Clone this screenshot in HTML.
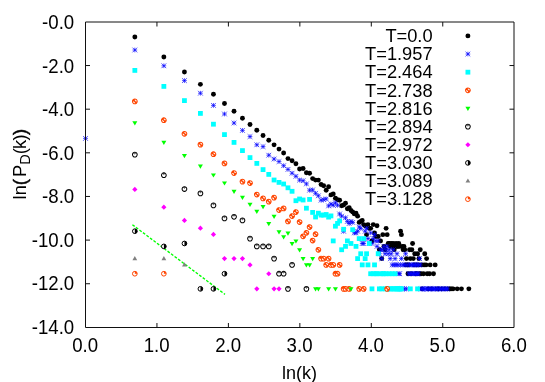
<!DOCTYPE html>
<html><head><meta charset="utf-8"><title>plot</title>
<style>
html,body{margin:0;padding:0;background:#fff;}
body{width:545px;height:382px;overflow:hidden;font-family:"Liberation Sans",sans-serif;}
svg{display:block;will-change:transform;}
text{font-family:"Liberation Sans",sans-serif;fill:#000;}
</style></head><body>
<svg width="545" height="382" viewBox="0 0 545 382">
<defs>
<g id="mo"><circle r="2.35" fill="#fff" stroke="#ff4500" stroke-width="1.05"/><path d="M0 0L-2.4 0A2.4 2.4 0 0 1 0 -2.4ZM0 0L2.4 0A2.4 2.4 0 0 1 0 2.4Z" fill="#ff4500"/><circle r="0.8" fill="#ff4500"/></g>
<g id="mc"><circle r="2.35" fill="#fff" stroke="#000" stroke-width="1.05"/><path d="M-2.05 -1.15A2.35 2.35 0 0 1 2.05 -1.15Z" fill="#333"/><path d="M-0.75 -1.2L0 0.1L0.75 -1.2Z" fill="#444"/></g>
<g id="mh"><circle r="2.35" fill="#fff" stroke="#000" stroke-width="1.0"/><path d="M0 -2.4A2.4 2.4 0 0 1 0 2.4Z" fill="#000"/></g>
<g id="mq"><circle r="2.35" fill="#fff" stroke="#ff4500" stroke-width="1.0"/><path d="M0 0L0 -2.4A2.4 2.4 0 0 1 2.4 0Z" fill="#ff4500"/></g>
</defs>
<rect width="545" height="382" fill="#fff"/>
<path d="M83.15 138.4H87.85M85.5 136.05V140.75M83.15 136.05L87.85 140.75M83.15 140.75L87.85 136.05" stroke="#0000ff" stroke-width="0.7" fill="none"/>
<g stroke="#111" stroke-width="1" fill="none">
<path d="M85.5 22.0V327.5H514.0V22.0Z"/>
<path d="M156.95 327.5v-4.5M156.95 22.0v4.5M228.4 327.5v-4.5M228.4 22.0v4.5M299.85 327.5v-4.5M299.85 22.0v4.5M371.3 327.5v-4.5M371.3 22.0v4.5M442.75 327.5v-4.5M442.75 22.0v4.5M85.5 65.54h4.5M514.0 65.54h-4.5M85.5 109.18h4.5M514.0 109.18h-4.5M85.5 152.82h4.5M514.0 152.82h-4.5M85.5 196.46h4.5M514.0 196.46h-4.5M85.5 240.1h4.5M514.0 240.1h-4.5M85.5 283.74h4.5M514.0 283.74h-4.5"/>
</g>
<text transform="translate(74.2,29.3) scale(0.9,1)" font-size="20.7" text-anchor="end">-0.0</text>
<text transform="translate(74.2,72.8) scale(0.9,1)" font-size="20.7" text-anchor="end">-2.0</text>
<text transform="translate(74.2,116.3) scale(0.9,1)" font-size="20.7" text-anchor="end">-4.0</text>
<text transform="translate(74.2,159.8) scale(0.9,1)" font-size="20.7" text-anchor="end">-6.0</text>
<text transform="translate(74.2,203.3) scale(0.9,1)" font-size="20.7" text-anchor="end">-8.0</text>
<text transform="translate(74.2,246.8) scale(0.9,1)" font-size="20.7" text-anchor="end">-10.0</text>
<text transform="translate(74.2,290.3) scale(0.9,1)" font-size="20.7" text-anchor="end">-12.0</text>
<text transform="translate(74.2,333.8) scale(0.9,1)" font-size="20.7" text-anchor="end">-14.0</text>
<text transform="translate(85.2,352.4) scale(0.9,1)" font-size="20.7" text-anchor="middle">0.0</text>
<text transform="translate(156.65,352.4) scale(0.9,1)" font-size="20.7" text-anchor="middle">1.0</text>
<text transform="translate(228.1,352.4) scale(0.9,1)" font-size="20.7" text-anchor="middle">2.0</text>
<text transform="translate(299.55,352.4) scale(0.9,1)" font-size="20.7" text-anchor="middle">3.0</text>
<text transform="translate(371,352.4) scale(0.9,1)" font-size="20.7" text-anchor="middle">4.0</text>
<text transform="translate(442.45,352.4) scale(0.9,1)" font-size="20.7" text-anchor="middle">5.0</text>
<text transform="translate(513.9,352.4) scale(0.9,1)" font-size="20.7" text-anchor="middle">6.0</text>
<text transform="translate(299.5,378.7) scale(0.95,1)" font-size="19" text-anchor="middle">ln(k)</text>
<text transform="translate(25.9,164.2) rotate(-90) scale(0.95,1)" font-size="19.2" text-anchor="middle">ln<tspan stroke="#000" stroke-width="0.5">(</tspan><tspan dx="2.2">P</tspan><tspan font-size="15.4" dy="4.5">D</tspan><tspan dy="-4.5" letter-spacing="-0.7">(k)</tspan><tspan stroke="#000" stroke-width="0.5">)</tspan></text>
<path d="M132.4 224.7L225 294.4" stroke="#00ff00" stroke-width="1.35" stroke-dasharray="2.8 1.6" fill="none"/>
<circle cx="134.84" cy="37" r="2.45" fill="#000"/>
<circle cx="163.86" cy="57.02" r="2.45" fill="#000"/>
<circle cx="184.44" cy="72" r="2.45" fill="#000"/>
<circle cx="200.41" cy="84.35" r="2.45" fill="#000"/>
<circle cx="213.45" cy="94.3" r="2.45" fill="#000"/>
<circle cx="224.48" cy="103.46" r="2.45" fill="#000"/>
<circle cx="234.03" cy="111.24" r="2.45" fill="#000"/>
<circle cx="242.46" cy="118.19" r="2.45" fill="#000"/>
<circle cx="250" cy="124.46" r="2.45" fill="#000"/>
<circle cx="256.82" cy="130.19" r="2.45" fill="#000"/>
<circle cx="263.05" cy="135.45" r="2.45" fill="#000"/>
<circle cx="268.77" cy="140.32" r="2.45" fill="#000"/>
<circle cx="274.07" cy="144.85" r="2.45" fill="#000"/>
<circle cx="279.01" cy="149.09" r="2.45" fill="#000"/>
<circle cx="283.63" cy="153.07" r="2.45" fill="#000"/>
<circle cx="287.97" cy="158.6" r="2.45" fill="#000"/>
<circle cx="292.06" cy="160.7" r="2.45" fill="#000"/>
<circle cx="295.92" cy="163.7" r="2.45" fill="#000"/>
<circle cx="299.59" cy="169" r="2.45" fill="#000"/>
<circle cx="303.09" cy="168.5" r="2.45" fill="#000"/>
<circle cx="306.41" cy="172.8" r="2.45" fill="#000"/>
<circle cx="309.59" cy="173.2" r="2.45" fill="#000"/>
<circle cx="312.64" cy="178.6" r="2.45" fill="#000"/>
<circle cx="315.56" cy="180.1" r="2.45" fill="#000"/>
<circle cx="318.37" cy="180.1" r="2.45" fill="#000"/>
<circle cx="321.07" cy="184.5" r="2.45" fill="#000"/>
<circle cx="323.67" cy="185.8" r="2.45" fill="#000"/>
<circle cx="326.18" cy="190.2" r="2.45" fill="#000"/>
<circle cx="328.61" cy="186.8" r="2.45" fill="#000"/>
<circle cx="330.95" cy="194.9" r="2.45" fill="#000"/>
<circle cx="333.22" cy="193.9" r="2.45" fill="#000"/>
<circle cx="335.43" cy="198.3" r="2.45" fill="#000"/>
<circle cx="337.56" cy="199.6" r="2.45" fill="#000"/>
<circle cx="339.64" cy="200.2" r="2.45" fill="#000"/>
<circle cx="341.65" cy="205.7" r="2.45" fill="#000"/>
<circle cx="343.61" cy="205" r="2.45" fill="#000"/>
<circle cx="345.52" cy="203.2" r="2.45" fill="#000"/>
<circle cx="347.38" cy="208.8" r="2.45" fill="#000"/>
<circle cx="349.19" cy="207.6" r="2.45" fill="#000"/>
<circle cx="350.96" cy="210.5" r="2.45" fill="#000"/>
<circle cx="352.68" cy="212" r="2.45" fill="#000"/>
<circle cx="354.36" cy="213.9" r="2.45" fill="#000"/>
<circle cx="356.01" cy="213.23" r="2.45" fill="#000"/>
<circle cx="357.62" cy="216.14" r="2.45" fill="#000"/>
<circle cx="359.19" cy="222.42" r="2.45" fill="#000"/>
<circle cx="360.73" cy="221.4" r="2.45" fill="#000"/>
<circle cx="362.23" cy="220.43" r="2.45" fill="#000"/>
<circle cx="363.71" cy="224.6" r="2.45" fill="#000"/>
<circle cx="365.16" cy="225.78" r="2.45" fill="#000"/>
<circle cx="366.57" cy="234.63" r="2.45" fill="#000"/>
<circle cx="367.96" cy="224.6" r="2.45" fill="#000"/>
<circle cx="369.32" cy="228.35" r="2.45" fill="#000"/>
<circle cx="370.66" cy="228.35" r="2.45" fill="#000"/>
<circle cx="371.97" cy="240.91" r="2.45" fill="#000"/>
<circle cx="373.26" cy="224.6" r="2.45" fill="#000"/>
<circle cx="374.53" cy="232.88" r="2.45" fill="#000"/>
<circle cx="375.77" cy="236.53" r="2.45" fill="#000"/>
<circle cx="377" cy="225.78" r="2.45" fill="#000"/>
<circle cx="378.2" cy="236.53" r="2.45" fill="#000"/>
<circle cx="379.38" cy="249.75" r="2.45" fill="#000"/>
<circle cx="380.55" cy="240.91" r="2.45" fill="#000"/>
<circle cx="381.69" cy="258.6" r="2.45" fill="#000"/>
<circle cx="382.82" cy="234.63" r="2.45" fill="#000"/>
<circle cx="383.93" cy="246.39" r="2.45" fill="#000"/>
<circle cx="385.02" cy="249.75" r="2.45" fill="#000"/>
<circle cx="386.1" cy="228.35" r="2.45" fill="#000"/>
<circle cx="387.16" cy="234.63" r="2.45" fill="#000"/>
<circle cx="388.2" cy="243.48" r="2.45" fill="#000"/>
<circle cx="389.23" cy="243.48" r="2.45" fill="#000"/>
<circle cx="390.24" cy="246.39" r="2.45" fill="#000"/>
<circle cx="391.25" cy="243.48" r="2.45" fill="#000"/>
<circle cx="392.23" cy="246.39" r="2.45" fill="#000"/>
<circle cx="393.21" cy="243.48" r="2.45" fill="#000"/>
<circle cx="394.17" cy="249.75" r="2.45" fill="#000"/>
<circle cx="395.11" cy="246.39" r="2.45" fill="#000"/>
<circle cx="396.05" cy="243.48" r="2.45" fill="#000"/>
<circle cx="396.97" cy="246.39" r="2.45" fill="#000"/>
<circle cx="397.88" cy="246.39" r="2.45" fill="#000"/>
<circle cx="398.78" cy="243.48" r="2.45" fill="#000"/>
<circle cx="399.67" cy="246.39" r="2.45" fill="#000"/>
<circle cx="400.55" cy="231.27" r="2.45" fill="#000"/>
<circle cx="401.42" cy="234.63" r="2.45" fill="#000"/>
<circle cx="402.27" cy="246.39" r="2.45" fill="#000"/>
<circle cx="403.12" cy="249.75" r="2.45" fill="#000"/>
<circle cx="403.96" cy="246.39" r="2.45" fill="#000"/>
<circle cx="404.79" cy="249.75" r="2.45" fill="#000"/>
<circle cx="405.6" cy="264.88" r="2.45" fill="#000"/>
<circle cx="406.41" cy="258.6" r="2.45" fill="#000"/>
<circle cx="407.21" cy="264.88" r="2.45" fill="#000"/>
<circle cx="408" cy="273.73" r="2.45" fill="#000"/>
<circle cx="408.78" cy="264.88" r="2.45" fill="#000"/>
<circle cx="409.56" cy="249.75" r="2.45" fill="#000"/>
<circle cx="410.32" cy="258.6" r="2.45" fill="#000"/>
<circle cx="411.08" cy="273.73" r="2.45" fill="#000"/>
<circle cx="411.83" cy="249.75" r="2.45" fill="#000"/>
<circle cx="412.57" cy="243.48" r="2.45" fill="#000"/>
<circle cx="413.3" cy="258.6" r="2.45" fill="#000"/>
<circle cx="414.03" cy="264.88" r="2.45" fill="#000"/>
<circle cx="414.75" cy="253.73" r="2.45" fill="#000"/>
<circle cx="415.46" cy="273.73" r="2.45" fill="#000"/>
<circle cx="416.17" cy="264.88" r="2.45" fill="#000"/>
<circle cx="416.86" cy="273.73" r="2.45" fill="#000"/>
<circle cx="417.56" cy="253.73" r="2.45" fill="#000"/>
<circle cx="418.24" cy="264.88" r="2.45" fill="#000"/>
<circle cx="418.92" cy="258.6" r="2.45" fill="#000"/>
<circle cx="419.59" cy="273.73" r="2.45" fill="#000"/>
<circle cx="420.26" cy="249.75" r="2.45" fill="#000"/>
<circle cx="420.92" cy="273.73" r="2.45" fill="#000"/>
<circle cx="421.57" cy="264.88" r="2.45" fill="#000"/>
<circle cx="422.22" cy="288.85" r="2.45" fill="#000"/>
<circle cx="423.49" cy="273.73" r="2.45" fill="#000"/>
<circle cx="424.12" cy="264.88" r="2.45" fill="#000"/>
<circle cx="424.75" cy="253.73" r="2.45" fill="#000"/>
<circle cx="425.98" cy="264.88" r="2.45" fill="#000"/>
<circle cx="426.59" cy="258.6" r="2.45" fill="#000"/>
<circle cx="427.2" cy="273.73" r="2.45" fill="#000"/>
<circle cx="428.39" cy="288.85" r="2.45" fill="#000"/>
<circle cx="429.56" cy="273.73" r="2.45" fill="#000"/>
<circle cx="430.14" cy="264.88" r="2.45" fill="#000"/>
<circle cx="431.85" cy="288.85" r="2.45" fill="#000"/>
<circle cx="433.52" cy="273.73" r="2.45" fill="#000"/>
<circle cx="435.15" cy="264.88" r="2.45" fill="#000"/>
<circle cx="436.75" cy="288.85" r="2.45" fill="#000"/>
<circle cx="438.82" cy="288.85" r="2.45" fill="#000"/>
<circle cx="441.83" cy="288.85" r="2.45" fill="#000"/>
<circle cx="444.71" cy="288.85" r="2.45" fill="#000"/>
<circle cx="447.48" cy="288.85" r="2.45" fill="#000"/>
<circle cx="449.27" cy="288.85" r="2.45" fill="#000"/>
<circle cx="450.58" cy="288.85" r="2.45" fill="#000"/>
<circle cx="451.87" cy="288.85" r="2.45" fill="#000"/>
<circle cx="453.14" cy="288.85" r="2.45" fill="#000"/>
<circle cx="457.2" cy="288.85" r="2.45" fill="#000"/>
<circle cx="461.42" cy="288.85" r="2.45" fill="#000"/>
<circle cx="468.85" cy="288.85" r="2.45" fill="#000"/>
<text transform="translate(432.6,42.2) scale(0.962,1)" font-size="19" text-anchor="end">T=0.0</text>
<circle cx="467.9" cy="35.9" r="2.45" fill="#000"/>
<path d="M132.49 50H137.19M134.84 47.65V52.35M132.49 47.65L137.19 52.35M132.49 52.35L137.19 47.65" stroke="#0000ff" stroke-width="0.7" fill="none"/>
<path d="M161.51 65.8H166.21M163.86 63.45V68.15M161.51 63.45L166.21 68.15M161.51 68.15L166.21 63.45" stroke="#0000ff" stroke-width="0.7" fill="none"/>
<path d="M182.09 80.6H186.79M184.44 78.25V82.95M182.09 78.25L186.79 82.95M182.09 82.95L186.79 78.25" stroke="#0000ff" stroke-width="0.7" fill="none"/>
<path d="M198.06 93.2H202.76M200.41 90.85V95.55M198.06 90.85L202.76 95.55M198.06 95.55L202.76 90.85" stroke="#0000ff" stroke-width="0.7" fill="none"/>
<path d="M211.1 105.4H215.8M213.45 103.05V107.75M211.1 103.05L215.8 107.75M211.1 107.75L215.8 103.05" stroke="#0000ff" stroke-width="0.7" fill="none"/>
<path d="M222.13 114H226.83M224.48 111.65V116.35M222.13 111.65L226.83 116.35M222.13 116.35L226.83 111.65" stroke="#0000ff" stroke-width="0.7" fill="none"/>
<path d="M231.68 123H236.38M234.03 120.65V125.35M231.68 120.65L236.38 125.35M231.68 125.35L236.38 120.65" stroke="#0000ff" stroke-width="0.7" fill="none"/>
<path d="M240.11 130.4H244.81M242.46 128.05V132.75M240.11 128.05L244.81 132.75M240.11 132.75L244.81 128.05" stroke="#0000ff" stroke-width="0.7" fill="none"/>
<path d="M247.65 136.6H252.35M250 134.25V138.95M247.65 134.25L252.35 138.95M247.65 138.95L252.35 134.25" stroke="#0000ff" stroke-width="0.7" fill="none"/>
<path d="M254.47 144.8H259.17M256.82 142.45V147.15M254.47 142.45L259.17 147.15M254.47 147.15L259.17 142.45" stroke="#0000ff" stroke-width="0.7" fill="none"/>
<path d="M260.7 146.6H265.4M263.05 144.25V148.95M260.7 144.25L265.4 148.95M260.7 148.95L265.4 144.25" stroke="#0000ff" stroke-width="0.7" fill="none"/>
<path d="M266.42 155.2H271.12M268.77 152.85V157.55M266.42 152.85L271.12 157.55M266.42 157.55L271.12 152.85" stroke="#0000ff" stroke-width="0.7" fill="none"/>
<path d="M271.72 159H276.42M274.07 156.65V161.35M271.72 156.65L276.42 161.35M271.72 161.35L276.42 156.65" stroke="#0000ff" stroke-width="0.7" fill="none"/>
<path d="M276.66 161.6H281.36M279.01 159.25V163.95M276.66 159.25L281.36 163.95M276.66 163.95L281.36 159.25" stroke="#0000ff" stroke-width="0.7" fill="none"/>
<path d="M281.28 165.7H285.98M283.63 163.35V168.05M281.28 163.35L285.98 168.05M281.28 168.05L285.98 163.35" stroke="#0000ff" stroke-width="0.7" fill="none"/>
<path d="M285.62 169.4H290.32M287.97 167.05V171.75M285.62 167.05L290.32 171.75M285.62 171.75L290.32 167.05" stroke="#0000ff" stroke-width="0.7" fill="none"/>
<path d="M289.71 173.2H294.41M292.06 170.85V175.55M289.71 170.85L294.41 175.55M289.71 175.55L294.41 170.85" stroke="#0000ff" stroke-width="0.7" fill="none"/>
<path d="M293.57 176.3H298.27M295.92 173.95V178.65M293.57 173.95L298.27 178.65M293.57 178.65L298.27 173.95" stroke="#0000ff" stroke-width="0.7" fill="none"/>
<path d="M297.24 180.1H301.94M299.59 177.75V182.45M297.24 177.75L301.94 182.45M297.24 182.45L301.94 177.75" stroke="#0000ff" stroke-width="0.7" fill="none"/>
<path d="M300.74 180.7H305.44M303.09 178.35V183.05M300.74 178.35L305.44 183.05M300.74 183.05L305.44 178.35" stroke="#0000ff" stroke-width="0.7" fill="none"/>
<path d="M304.06 183.9H308.76M306.41 181.55V186.25M304.06 181.55L308.76 186.25M304.06 186.25L308.76 181.55" stroke="#0000ff" stroke-width="0.7" fill="none"/>
<path d="M307.24 190.2H311.94M309.59 187.85V192.55M307.24 187.85L311.94 192.55M307.24 192.55L311.94 187.85" stroke="#0000ff" stroke-width="0.7" fill="none"/>
<path d="M310.29 189.9H314.99M312.64 187.55V192.25M310.29 187.55L314.99 192.25M310.29 192.25L314.99 187.55" stroke="#0000ff" stroke-width="0.7" fill="none"/>
<path d="M313.21 193.3H317.91M315.56 190.95V195.65M313.21 190.95L317.91 195.65M313.21 195.65L317.91 190.95" stroke="#0000ff" stroke-width="0.7" fill="none"/>
<path d="M316.02 195.8H320.72M318.37 193.45V198.15M316.02 193.45L320.72 198.15M316.02 198.15L320.72 193.45" stroke="#0000ff" stroke-width="0.7" fill="none"/>
<path d="M318.72 200.2H323.42M321.07 197.85V202.55M318.72 197.85L323.42 202.55M318.72 202.55L323.42 197.85" stroke="#0000ff" stroke-width="0.7" fill="none"/>
<path d="M321.32 199.6H326.02M323.67 197.25V201.95M321.32 197.25L326.02 201.95M321.32 201.95L326.02 197.25" stroke="#0000ff" stroke-width="0.7" fill="none"/>
<path d="M323.83 198.9H328.53M326.18 196.55V201.25M323.83 196.55L328.53 201.25M323.83 201.25L328.53 196.55" stroke="#0000ff" stroke-width="0.7" fill="none"/>
<path d="M326.26 205.9H330.96M328.61 203.55V208.25M326.26 203.55L330.96 208.25M326.26 208.25L330.96 203.55" stroke="#0000ff" stroke-width="0.7" fill="none"/>
<path d="M328.6 204H333.3M330.95 201.65V206.35M328.6 201.65L333.3 206.35M328.6 206.35L333.3 201.65" stroke="#0000ff" stroke-width="0.7" fill="none"/>
<path d="M330.87 205.2H335.57M333.22 202.85V207.55M330.87 202.85L335.57 207.55M330.87 207.55L335.57 202.85" stroke="#0000ff" stroke-width="0.7" fill="none"/>
<path d="M333.08 202.7H337.78M335.43 200.35V205.05M333.08 200.35L337.78 205.05M333.08 205.05L337.78 200.35" stroke="#0000ff" stroke-width="0.7" fill="none"/>
<path d="M335.21 205.31H339.91M337.56 202.96V207.66M335.21 202.96L339.91 207.66M335.21 207.66L339.91 202.96" stroke="#0000ff" stroke-width="0.7" fill="none"/>
<path d="M337.29 213.92H341.99M339.64 211.57V216.27M337.29 211.57L341.99 216.27M337.29 216.27L341.99 211.57" stroke="#0000ff" stroke-width="0.7" fill="none"/>
<path d="M339.3 216.14H344M341.65 213.79V218.49M339.3 213.79L344 218.49M339.3 218.49L344 213.79" stroke="#0000ff" stroke-width="0.7" fill="none"/>
<path d="M341.26 231.27H345.96M343.61 228.92V233.62M341.26 228.92L345.96 233.62M341.26 233.62L345.96 228.92" stroke="#0000ff" stroke-width="0.7" fill="none"/>
<path d="M343.17 217.76H347.87M345.52 215.41V220.11M343.17 215.41L347.87 220.11M343.17 220.11L347.87 215.41" stroke="#0000ff" stroke-width="0.7" fill="none"/>
<path d="M345.03 221.4H349.73M347.38 219.05V223.75M345.03 219.05L349.73 223.75M345.03 223.75L349.73 219.05" stroke="#0000ff" stroke-width="0.7" fill="none"/>
<path d="M346.84 223.48H351.54M349.19 221.13V225.83M346.84 221.13L351.54 225.83M346.84 225.83L351.54 221.13" stroke="#0000ff" stroke-width="0.7" fill="none"/>
<path d="M348.61 221.4H353.31M350.96 219.05V223.75M348.61 219.05L353.31 223.75M348.61 223.75L353.31 219.05" stroke="#0000ff" stroke-width="0.7" fill="none"/>
<path d="M350.33 222.42H355.03M352.68 220.07V224.77M350.33 220.07L355.03 224.77M350.33 224.77L355.03 220.07" stroke="#0000ff" stroke-width="0.7" fill="none"/>
<path d="M352.01 232.88H356.71M354.36 230.53V235.23M352.01 230.53L356.71 235.23M352.01 235.23L356.71 230.53" stroke="#0000ff" stroke-width="0.7" fill="none"/>
<path d="M353.66 232.88H358.36M356.01 230.53V235.23M353.66 230.53L358.36 235.23M353.66 235.23L358.36 230.53" stroke="#0000ff" stroke-width="0.7" fill="none"/>
<path d="M355.27 231.27H359.97M357.62 228.92V233.62M355.27 228.92L359.97 233.62M355.27 233.62L359.97 228.92" stroke="#0000ff" stroke-width="0.7" fill="none"/>
<path d="M356.84 227.03H361.54M359.19 224.68V229.38M356.84 224.68L361.54 229.38M356.84 229.38L361.54 224.68" stroke="#0000ff" stroke-width="0.7" fill="none"/>
<path d="M358.38 228.35H363.08M360.73 226V230.7M358.38 226L363.08 230.7M358.38 230.7L363.08 226" stroke="#0000ff" stroke-width="0.7" fill="none"/>
<path d="M359.88 243.48H364.58M362.23 241.13V245.83M359.88 241.13L364.58 245.83M359.88 245.83L364.58 241.13" stroke="#0000ff" stroke-width="0.7" fill="none"/>
<path d="M361.36 243.48H366.06M363.71 241.13V245.83M361.36 241.13L366.06 245.83M361.36 245.83L366.06 241.13" stroke="#0000ff" stroke-width="0.7" fill="none"/>
<path d="M362.81 231.27H367.51M365.16 228.92V233.62M362.81 228.92L367.51 233.62M362.81 233.62L367.51 228.92" stroke="#0000ff" stroke-width="0.7" fill="none"/>
<path d="M364.22 228.35H368.92M366.57 226V230.7M364.22 226L368.92 230.7M364.22 230.7L368.92 226" stroke="#0000ff" stroke-width="0.7" fill="none"/>
<path d="M365.61 238.61H370.31M367.96 236.26V240.96M365.61 236.26L370.31 240.96M365.61 240.96L370.31 236.26" stroke="#0000ff" stroke-width="0.7" fill="none"/>
<path d="M366.97 243.48H371.67M369.32 241.13V245.83M366.97 241.13L371.67 245.83M366.97 245.83L371.67 241.13" stroke="#0000ff" stroke-width="0.7" fill="none"/>
<path d="M368.31 232.88H373.01M370.66 230.53V235.23M368.31 230.53L373.01 235.23M368.31 235.23L373.01 230.53" stroke="#0000ff" stroke-width="0.7" fill="none"/>
<path d="M369.62 243.48H374.32M371.97 241.13V245.83M369.62 241.13L374.32 245.83M369.62 245.83L374.32 241.13" stroke="#0000ff" stroke-width="0.7" fill="none"/>
<path d="M370.91 238.61H375.61M373.26 236.26V240.96M370.91 236.26L375.61 240.96M370.91 240.96L375.61 236.26" stroke="#0000ff" stroke-width="0.7" fill="none"/>
<path d="M372.18 234.63H376.88M374.53 232.28V236.98M372.18 232.28L376.88 236.98M372.18 236.98L376.88 232.28" stroke="#0000ff" stroke-width="0.7" fill="none"/>
<path d="M373.42 240.91H378.12M375.77 238.56V243.26M373.42 238.56L378.12 243.26M373.42 243.26L378.12 238.56" stroke="#0000ff" stroke-width="0.7" fill="none"/>
<path d="M374.65 246.39H379.35M377 244.04V248.74M374.65 244.04L379.35 248.74M374.65 248.74L379.35 244.04" stroke="#0000ff" stroke-width="0.7" fill="none"/>
<path d="M375.85 240.91H380.55M378.2 238.56V243.26M375.85 238.56L380.55 243.26M375.85 243.26L380.55 238.56" stroke="#0000ff" stroke-width="0.7" fill="none"/>
<path d="M377.03 253.73H381.73M379.38 251.38V256.08M377.03 251.38L381.73 256.08M377.03 256.08L381.73 251.38" stroke="#0000ff" stroke-width="0.7" fill="none"/>
<path d="M378.2 249.75H382.9M380.55 247.4V252.1M378.2 247.4L382.9 252.1M378.2 252.1L382.9 247.4" stroke="#0000ff" stroke-width="0.7" fill="none"/>
<path d="M379.34 258.6H384.04M381.69 256.25V260.95M379.34 256.25L384.04 260.95M379.34 260.95L384.04 256.25" stroke="#0000ff" stroke-width="0.7" fill="none"/>
<path d="M380.47 249.75H385.17M382.82 247.4V252.1M380.47 247.4L385.17 252.1M380.47 252.1L385.17 247.4" stroke="#0000ff" stroke-width="0.7" fill="none"/>
<path d="M381.58 246.39H386.28M383.93 244.04V248.74M381.58 244.04L386.28 248.74M381.58 248.74L386.28 244.04" stroke="#0000ff" stroke-width="0.7" fill="none"/>
<path d="M382.67 253.73H387.37M385.02 251.38V256.08M382.67 251.38L387.37 256.08M382.67 256.08L387.37 251.38" stroke="#0000ff" stroke-width="0.7" fill="none"/>
<path d="M383.75 249.75H388.45M386.1 247.4V252.1M383.75 247.4L388.45 252.1M383.75 252.1L388.45 247.4" stroke="#0000ff" stroke-width="0.7" fill="none"/>
<path d="M384.81 246.39H389.51M387.16 244.04V248.74M384.81 244.04L389.51 248.74M384.81 248.74L389.51 244.04" stroke="#0000ff" stroke-width="0.7" fill="none"/>
<path d="M385.85 253.73H390.55M388.2 251.38V256.08M385.85 251.38L390.55 256.08M385.85 256.08L390.55 251.38" stroke="#0000ff" stroke-width="0.7" fill="none"/>
<path d="M386.88 249.75H391.58M389.23 247.4V252.1M386.88 247.4L391.58 252.1M386.88 252.1L391.58 247.4" stroke="#0000ff" stroke-width="0.7" fill="none"/>
<path d="M387.89 258.6H392.59M390.24 256.25V260.95M387.89 256.25L392.59 260.95M387.89 260.95L392.59 256.25" stroke="#0000ff" stroke-width="0.7" fill="none"/>
<path d="M388.9 253.73H393.6M391.25 251.38V256.08M388.9 251.38L393.6 256.08M388.9 256.08L393.6 251.38" stroke="#0000ff" stroke-width="0.7" fill="none"/>
<path d="M389.88 264.88H394.58M392.23 262.53V267.23M389.88 262.53L394.58 267.23M389.88 267.23L394.58 262.53" stroke="#0000ff" stroke-width="0.7" fill="none"/>
<path d="M390.86 249.75H395.56M393.21 247.4V252.1M390.86 247.4L395.56 252.1M390.86 252.1L395.56 247.4" stroke="#0000ff" stroke-width="0.7" fill="none"/>
<path d="M391.82 264.88H396.52M394.17 262.53V267.23M391.82 262.53L396.52 267.23M391.82 267.23L396.52 262.53" stroke="#0000ff" stroke-width="0.7" fill="none"/>
<path d="M392.76 258.6H397.46M395.11 256.25V260.95M392.76 256.25L397.46 260.95M392.76 260.95L397.46 256.25" stroke="#0000ff" stroke-width="0.7" fill="none"/>
<path d="M393.7 264.88H398.4M396.05 262.53V267.23M393.7 262.53L398.4 267.23M393.7 267.23L398.4 262.53" stroke="#0000ff" stroke-width="0.7" fill="none"/>
<path d="M394.62 253.73H399.32M396.97 251.38V256.08M394.62 251.38L399.32 256.08M394.62 256.08L399.32 251.38" stroke="#0000ff" stroke-width="0.7" fill="none"/>
<path d="M395.53 264.88H400.23M397.88 262.53V267.23M395.53 262.53L400.23 267.23M395.53 267.23L400.23 262.53" stroke="#0000ff" stroke-width="0.7" fill="none"/>
<path d="M396.43 273.73H401.13M398.78 271.38V276.08M396.43 271.38L401.13 276.08M396.43 276.08L401.13 271.38" stroke="#0000ff" stroke-width="0.7" fill="none"/>
<path d="M397.32 273.73H402.02M399.67 271.38V276.08M397.32 271.38L402.02 276.08M397.32 276.08L402.02 271.38" stroke="#0000ff" stroke-width="0.7" fill="none"/>
<path d="M398.2 264.88H402.9M400.55 262.53V267.23M398.2 262.53L402.9 267.23M398.2 267.23L402.9 262.53" stroke="#0000ff" stroke-width="0.7" fill="none"/>
<path d="M399.07 258.6H403.77M401.42 256.25V260.95M399.07 256.25L403.77 260.95M399.07 260.95L403.77 256.25" stroke="#0000ff" stroke-width="0.7" fill="none"/>
<path d="M399.92 288.85H404.62M402.27 286.5V291.2M399.92 286.5L404.62 291.2M399.92 291.2L404.62 286.5" stroke="#0000ff" stroke-width="0.7" fill="none"/>
<path d="M400.77 264.88H405.47M403.12 262.53V267.23M400.77 262.53L405.47 267.23M400.77 267.23L405.47 262.53" stroke="#0000ff" stroke-width="0.7" fill="none"/>
<path d="M401.61 288.85H406.31M403.96 286.5V291.2M401.61 286.5L406.31 291.2M401.61 291.2L406.31 286.5" stroke="#0000ff" stroke-width="0.7" fill="none"/>
<path d="M402.44 264.88H407.14M404.79 262.53V267.23M402.44 262.53L407.14 267.23M402.44 267.23L407.14 262.53" stroke="#0000ff" stroke-width="0.7" fill="none"/>
<path d="M403.25 253.73H407.95M405.6 251.38V256.08M403.25 251.38L407.95 256.08M403.25 256.08L407.95 251.38" stroke="#0000ff" stroke-width="0.7" fill="none"/>
<path d="M404.06 288.85H408.76M406.41 286.5V291.2M404.06 286.5L408.76 291.2M404.06 291.2L408.76 286.5" stroke="#0000ff" stroke-width="0.7" fill="none"/>
<path d="M404.86 264.88H409.56M407.21 262.53V267.23M404.86 262.53L409.56 267.23M404.86 267.23L409.56 262.53" stroke="#0000ff" stroke-width="0.7" fill="none"/>
<path d="M406.43 273.73H411.13M408.78 271.38V276.08M406.43 271.38L411.13 276.08M406.43 276.08L411.13 271.38" stroke="#0000ff" stroke-width="0.7" fill="none"/>
<path d="M407.21 264.88H411.91M409.56 262.53V267.23M407.21 262.53L411.91 267.23M407.21 267.23L411.91 262.53" stroke="#0000ff" stroke-width="0.7" fill="none"/>
<path d="M407.97 273.73H412.67M410.32 271.38V276.08M407.97 271.38L412.67 276.08M407.97 276.08L412.67 271.38" stroke="#0000ff" stroke-width="0.7" fill="none"/>
<path d="M408.73 264.88H413.43M411.08 262.53V267.23M408.73 262.53L413.43 267.23M408.73 267.23L413.43 262.53" stroke="#0000ff" stroke-width="0.7" fill="none"/>
<path d="M409.48 273.73H414.18M411.83 271.38V276.08M409.48 271.38L414.18 276.08M409.48 276.08L414.18 271.38" stroke="#0000ff" stroke-width="0.7" fill="none"/>
<path d="M410.22 264.88H414.92M412.57 262.53V267.23M410.22 262.53L414.92 267.23M410.22 267.23L414.92 262.53" stroke="#0000ff" stroke-width="0.7" fill="none"/>
<path d="M410.95 273.73H415.65M413.3 271.38V276.08M410.95 271.38L415.65 276.08M410.95 276.08L415.65 271.38" stroke="#0000ff" stroke-width="0.7" fill="none"/>
<path d="M411.68 264.88H416.38M414.03 262.53V267.23M411.68 262.53L416.38 267.23M411.68 267.23L416.38 262.53" stroke="#0000ff" stroke-width="0.7" fill="none"/>
<path d="M412.4 273.73H417.1M414.75 271.38V276.08M412.4 271.38L417.1 276.08M412.4 276.08L417.1 271.38" stroke="#0000ff" stroke-width="0.7" fill="none"/>
<path d="M413.11 264.88H417.81M415.46 262.53V267.23M413.11 262.53L417.81 267.23M413.11 267.23L417.81 262.53" stroke="#0000ff" stroke-width="0.7" fill="none"/>
<path d="M413.82 273.73H418.52M416.17 271.38V276.08M413.82 271.38L418.52 276.08M413.82 276.08L418.52 271.38" stroke="#0000ff" stroke-width="0.7" fill="none"/>
<path d="M414.51 264.88H419.21M416.86 262.53V267.23M414.51 262.53L419.21 267.23M414.51 267.23L419.21 262.53" stroke="#0000ff" stroke-width="0.7" fill="none"/>
<path d="M415.21 273.73H419.91M417.56 271.38V276.08M415.21 271.38L419.91 276.08M415.21 276.08L419.91 271.38" stroke="#0000ff" stroke-width="0.7" fill="none"/>
<path d="M415.89 273.73H420.59M418.24 271.38V276.08M415.89 271.38L420.59 276.08M415.89 276.08L420.59 271.38" stroke="#0000ff" stroke-width="0.7" fill="none"/>
<path d="M416.57 264.88H421.27M418.92 262.53V267.23M416.57 262.53L421.27 267.23M416.57 267.23L421.27 262.53" stroke="#0000ff" stroke-width="0.7" fill="none"/>
<path d="M417.24 258.6H421.94M419.59 256.25V260.95M417.24 256.25L421.94 260.95M417.24 260.95L421.94 256.25" stroke="#0000ff" stroke-width="0.7" fill="none"/>
<path d="M417.91 264.88H422.61M420.26 262.53V267.23M417.91 262.53L422.61 267.23M417.91 267.23L422.61 262.53" stroke="#0000ff" stroke-width="0.7" fill="none"/>
<path d="M418.57 288.85H423.27M420.92 286.5V291.2M418.57 286.5L423.27 291.2M418.57 291.2L423.27 286.5" stroke="#0000ff" stroke-width="0.7" fill="none"/>
<path d="M419.87 288.85H424.57M422.22 286.5V291.2M419.87 286.5L424.57 291.2M419.87 291.2L424.57 286.5" stroke="#0000ff" stroke-width="0.7" fill="none"/>
<path d="M421.14 288.85H425.84M423.49 286.5V291.2M421.14 286.5L425.84 291.2M421.14 291.2L425.84 286.5" stroke="#0000ff" stroke-width="0.7" fill="none"/>
<path d="M422.4 288.85H427.1M424.75 286.5V291.2M422.4 286.5L427.1 291.2M422.4 291.2L427.1 286.5" stroke="#0000ff" stroke-width="0.7" fill="none"/>
<path d="M424.24 288.85H428.94M426.59 286.5V291.2M424.24 286.5L428.94 291.2M424.24 291.2L428.94 286.5" stroke="#0000ff" stroke-width="0.7" fill="none"/>
<path d="M425.45 288.85H430.15M427.8 286.5V291.2M425.45 286.5L430.15 291.2M425.45 291.2L430.15 286.5" stroke="#0000ff" stroke-width="0.7" fill="none"/>
<path d="M427.21 288.85H431.91M429.56 286.5V291.2M427.21 286.5L431.91 291.2M427.21 291.2L431.91 286.5" stroke="#0000ff" stroke-width="0.7" fill="none"/>
<path d="M428.37 288.85H433.07M430.72 286.5V291.2M428.37 286.5L433.07 291.2M428.37 291.2L433.07 286.5" stroke="#0000ff" stroke-width="0.7" fill="none"/>
<path d="M430.06 288.85H434.76M432.41 286.5V291.2M430.06 286.5L434.76 291.2M430.06 291.2L434.76 286.5" stroke="#0000ff" stroke-width="0.7" fill="none"/>
<path d="M431.17 288.85H435.87M433.52 286.5V291.2M431.17 286.5L435.87 291.2M431.17 291.2L435.87 286.5" stroke="#0000ff" stroke-width="0.7" fill="none"/>
<path d="M432.8 288.85H437.5M435.15 286.5V291.2M432.8 286.5L437.5 291.2M432.8 291.2L437.5 286.5" stroke="#0000ff" stroke-width="0.7" fill="none"/>
<path d="M433.87 288.85H438.57M436.22 286.5V291.2M433.87 286.5L438.57 291.2M433.87 291.2L438.57 286.5" stroke="#0000ff" stroke-width="0.7" fill="none"/>
<path d="M435.45 288.85H440.15M437.8 286.5V291.2M435.45 286.5L440.15 291.2M435.45 291.2L440.15 286.5" stroke="#0000ff" stroke-width="0.7" fill="none"/>
<path d="M436.98 288.85H441.68M439.33 286.5V291.2M436.98 286.5L441.68 291.2M436.98 291.2L441.68 286.5" stroke="#0000ff" stroke-width="0.7" fill="none"/>
<path d="M438.49 288.85H443.19M440.84 286.5V291.2M438.49 286.5L443.19 291.2M438.49 291.2L443.19 286.5" stroke="#0000ff" stroke-width="0.7" fill="none"/>
<path d="M439.97 288.85H444.67M442.32 286.5V291.2M439.97 286.5L444.67 291.2M439.97 291.2L444.67 286.5" stroke="#0000ff" stroke-width="0.7" fill="none"/>
<path d="M441.41 288.85H446.11M443.76 286.5V291.2M441.41 286.5L446.11 291.2M441.41 291.2L446.11 286.5" stroke="#0000ff" stroke-width="0.7" fill="none"/>
<path d="M442.83 288.85H447.53M445.18 286.5V291.2M442.83 286.5L447.53 291.2M442.83 291.2L447.53 286.5" stroke="#0000ff" stroke-width="0.7" fill="none"/>
<path d="M444.22 288.85H448.92M446.57 286.5V291.2M444.22 286.5L448.92 291.2M444.22 291.2L448.92 286.5" stroke="#0000ff" stroke-width="0.7" fill="none"/>
<path d="M445.13 288.85H449.83M447.48 286.5V291.2M445.13 286.5L449.83 291.2M445.13 291.2L449.83 286.5" stroke="#0000ff" stroke-width="0.7" fill="none"/>
<text transform="translate(432.6,60.34) scale(0.962,1)" font-size="19" text-anchor="end">T=1.957</text>
<path d="M465.55 54.04H470.25M467.9 51.69V56.39M465.55 51.69L470.25 56.39M465.55 56.39L470.25 51.69" stroke="#0000ff" stroke-width="0.7" fill="none"/>
<rect x="132.44" y="68" width="4.8" height="4.8" fill="#00ffff"/>
<rect x="161.46" y="84" width="4.8" height="4.8" fill="#00ffff"/>
<rect x="182.04" y="98.2" width="4.8" height="4.8" fill="#00ffff"/>
<rect x="198.01" y="111" width="4.8" height="4.8" fill="#00ffff"/>
<rect x="211.05" y="121.8" width="4.8" height="4.8" fill="#00ffff"/>
<rect x="222.08" y="132.2" width="4.8" height="4.8" fill="#00ffff"/>
<rect x="231.63" y="140" width="4.8" height="4.8" fill="#00ffff"/>
<rect x="240.06" y="148.2" width="4.8" height="4.8" fill="#00ffff"/>
<rect x="247.6" y="155.2" width="4.8" height="4.8" fill="#00ffff"/>
<rect x="254.42" y="161" width="4.8" height="4.8" fill="#00ffff"/>
<rect x="260.65" y="167.2" width="4.8" height="4.8" fill="#00ffff"/>
<rect x="266.37" y="172" width="4.8" height="4.8" fill="#00ffff"/>
<rect x="271.67" y="177.6" width="4.8" height="4.8" fill="#00ffff"/>
<rect x="276.61" y="180" width="4.8" height="4.8" fill="#00ffff"/>
<rect x="281.23" y="181.6" width="4.8" height="4.8" fill="#00ffff"/>
<rect x="285.57" y="185.4" width="4.8" height="4.8" fill="#00ffff"/>
<rect x="289.66" y="188.9" width="4.8" height="4.8" fill="#00ffff"/>
<rect x="293.52" y="198.3" width="4.8" height="4.8" fill="#00ffff"/>
<rect x="297.19" y="196.6" width="4.8" height="4.8" fill="#00ffff"/>
<rect x="300.69" y="197.6" width="4.8" height="4.8" fill="#00ffff"/>
<rect x="304.01" y="205.8" width="4.8" height="4.8" fill="#00ffff"/>
<rect x="307.19" y="197" width="4.8" height="4.8" fill="#00ffff"/>
<rect x="310.24" y="210" width="4.8" height="4.8" fill="#00ffff"/>
<rect x="313.16" y="214.6" width="4.8" height="4.8" fill="#00ffff"/>
<rect x="315.97" y="210.8" width="4.8" height="4.8" fill="#00ffff"/>
<rect x="318.67" y="212.7" width="4.8" height="4.8" fill="#00ffff"/>
<rect x="321.27" y="212.7" width="4.8" height="4.8" fill="#00ffff"/>
<rect x="323.78" y="212.1" width="4.8" height="4.8" fill="#00ffff"/>
<rect x="326.21" y="214.7" width="4.8" height="4.8" fill="#00ffff"/>
<rect x="328.55" y="213.5" width="4.8" height="4.8" fill="#00ffff"/>
<rect x="330.82" y="238.51" width="4.8" height="4.8" fill="#00ffff"/>
<rect x="333.03" y="223.8" width="4.8" height="4.8" fill="#00ffff"/>
<rect x="335.16" y="221" width="4.8" height="4.8" fill="#00ffff"/>
<rect x="337.24" y="218.5" width="4.8" height="4.8" fill="#00ffff"/>
<rect x="339.25" y="247.35" width="4.8" height="4.8" fill="#00ffff"/>
<rect x="341.21" y="226.9" width="4.8" height="4.8" fill="#00ffff"/>
<rect x="343.12" y="243.99" width="4.8" height="4.8" fill="#00ffff"/>
<rect x="344.98" y="238.51" width="4.8" height="4.8" fill="#00ffff"/>
<rect x="348.56" y="241.08" width="4.8" height="4.8" fill="#00ffff"/>
<rect x="350.28" y="227.3" width="4.8" height="4.8" fill="#00ffff"/>
<rect x="353.61" y="243.99" width="4.8" height="4.8" fill="#00ffff"/>
<rect x="355.22" y="256.2" width="4.8" height="4.8" fill="#00ffff"/>
<rect x="356.79" y="236.21" width="4.8" height="4.8" fill="#00ffff"/>
<rect x="358.33" y="251.33" width="4.8" height="4.8" fill="#00ffff"/>
<rect x="359.83" y="262.48" width="4.8" height="4.8" fill="#00ffff"/>
<rect x="361.31" y="236.21" width="4.8" height="4.8" fill="#00ffff"/>
<rect x="362.76" y="256.2" width="4.8" height="4.8" fill="#00ffff"/>
<rect x="364.17" y="251.33" width="4.8" height="4.8" fill="#00ffff"/>
<rect x="365.56" y="262.48" width="4.8" height="4.8" fill="#00ffff"/>
<rect x="366.92" y="241.08" width="4.8" height="4.8" fill="#00ffff"/>
<rect x="368.26" y="271.33" width="4.8" height="4.8" fill="#00ffff"/>
<rect x="369.57" y="286.45" width="4.8" height="4.8" fill="#00ffff"/>
<rect x="370.86" y="271.33" width="4.8" height="4.8" fill="#00ffff"/>
<rect x="372.13" y="262.48" width="4.8" height="4.8" fill="#00ffff"/>
<rect x="373.37" y="271.33" width="4.8" height="4.8" fill="#00ffff"/>
<rect x="374.6" y="271.33" width="4.8" height="4.8" fill="#00ffff"/>
<rect x="375.8" y="251.33" width="4.8" height="4.8" fill="#00ffff"/>
<rect x="376.98" y="286.45" width="4.8" height="4.8" fill="#00ffff"/>
<rect x="378.15" y="271.33" width="4.8" height="4.8" fill="#00ffff"/>
<rect x="379.29" y="286.45" width="4.8" height="4.8" fill="#00ffff"/>
<rect x="380.42" y="271.33" width="4.8" height="4.8" fill="#00ffff"/>
<rect x="381.53" y="271.33" width="4.8" height="4.8" fill="#00ffff"/>
<rect x="382.62" y="286.45" width="4.8" height="4.8" fill="#00ffff"/>
<rect x="383.7" y="271.33" width="4.8" height="4.8" fill="#00ffff"/>
<rect x="384.76" y="286.45" width="4.8" height="4.8" fill="#00ffff"/>
<rect x="385.8" y="286.45" width="4.8" height="4.8" fill="#00ffff"/>
<rect x="386.83" y="271.33" width="4.8" height="4.8" fill="#00ffff"/>
<rect x="387.84" y="286.45" width="4.8" height="4.8" fill="#00ffff"/>
<rect x="388.85" y="286.45" width="4.8" height="4.8" fill="#00ffff"/>
<rect x="389.83" y="271.33" width="4.8" height="4.8" fill="#00ffff"/>
<rect x="390.81" y="286.45" width="4.8" height="4.8" fill="#00ffff"/>
<rect x="391.77" y="286.45" width="4.8" height="4.8" fill="#00ffff"/>
<rect x="392.71" y="271.33" width="4.8" height="4.8" fill="#00ffff"/>
<rect x="393.65" y="286.45" width="4.8" height="4.8" fill="#00ffff"/>
<rect x="394.57" y="286.45" width="4.8" height="4.8" fill="#00ffff"/>
<rect x="395.48" y="286.45" width="4.8" height="4.8" fill="#00ffff"/>
<rect x="396.38" y="286.45" width="4.8" height="4.8" fill="#00ffff"/>
<rect x="397.27" y="286.45" width="4.8" height="4.8" fill="#00ffff"/>
<rect x="398.15" y="286.45" width="4.8" height="4.8" fill="#00ffff"/>
<rect x="399.02" y="286.45" width="4.8" height="4.8" fill="#00ffff"/>
<rect x="407.92" y="286.45" width="4.8" height="4.8" fill="#00ffff"/>
<rect x="415.16" y="286.45" width="4.8" height="4.8" fill="#00ffff"/>
<text transform="translate(432.6,78.48) scale(0.962,1)" font-size="19" text-anchor="end">T=2.464</text>
<rect x="465.5" y="69.78" width="4.8" height="4.8" fill="#00ffff"/>
<use href="#mo" x="134.84" y="101.4"/>
<use href="#mo" x="163.86" y="120.2"/>
<use href="#mo" x="184.44" y="133.8"/>
<use href="#mo" x="200.41" y="144.6"/>
<use href="#mo" x="213.45" y="154.2"/>
<use href="#mo" x="224.48" y="163.4"/>
<use href="#mo" x="234.03" y="173"/>
<use href="#mo" x="242.46" y="181.6"/>
<use href="#mo" x="250" y="183"/>
<use href="#mo" x="256.82" y="194.5"/>
<use href="#mo" x="263.05" y="198.4"/>
<use href="#mo" x="268.77" y="201.6"/>
<use href="#mo" x="274.07" y="197.6"/>
<use href="#mo" x="279.01" y="210"/>
<use href="#mo" x="283.63" y="208.4"/>
<use href="#mo" x="287.97" y="221.4"/>
<use href="#mo" x="292.06" y="216"/>
<use href="#mo" x="295.92" y="212"/>
<use href="#mo" x="299.59" y="222"/>
<use href="#mo" x="303.09" y="236.3"/>
<use href="#mo" x="306.41" y="232.8"/>
<use href="#mo" x="309.59" y="227"/>
<use href="#mo" x="312.64" y="240.5"/>
<use href="#mo" x="315.56" y="234.2"/>
<use href="#mo" x="318.37" y="249.75"/>
<use href="#mo" x="321.07" y="258.6"/>
<use href="#mo" x="323.67" y="258.6"/>
<use href="#mo" x="326.18" y="264.88"/>
<use href="#mo" x="328.61" y="258.6"/>
<use href="#mo" x="330.95" y="264.88"/>
<use href="#mo" x="333.22" y="264.88"/>
<use href="#mo" x="335.43" y="273.73"/>
<use href="#mo" x="337.56" y="273.73"/>
<use href="#mo" x="339.64" y="264.88"/>
<use href="#mo" x="343.61" y="288.85"/>
<use href="#mo" x="345.52" y="288.85"/>
<use href="#mo" x="349.19" y="288.85"/>
<use href="#mo" x="359.19" y="288.85"/>
<use href="#mo" x="363.71" y="288.85"/>
<use href="#mo" x="387.16" y="288.85"/>
<text transform="translate(432.6,96.62) scale(0.962,1)" font-size="19" text-anchor="end">T=2.738</text>
<use href="#mo" x="467.9" y="90.32"/>
<path d="M132.34 121.2H137.34L134.84 125.4Z" fill="#00ff00"/>
<path d="M161.36 140.8H166.36L163.86 145Z" fill="#00ff00"/>
<path d="M181.94 154H186.94L184.44 158.2Z" fill="#00ff00"/>
<path d="M197.91 164.6H202.91L200.41 168.8Z" fill="#00ff00"/>
<path d="M210.95 173.4H215.95L213.45 177.6Z" fill="#00ff00"/>
<path d="M221.98 181.4H226.98L224.48 185.6Z" fill="#00ff00"/>
<path d="M231.53 189.8H236.53L234.03 194Z" fill="#00ff00"/>
<path d="M239.96 195.8H244.96L242.46 200Z" fill="#00ff00"/>
<path d="M247.5 202.8H252.5L250 207Z" fill="#00ff00"/>
<path d="M254.32 209.8H259.32L256.82 214Z" fill="#00ff00"/>
<path d="M260.55 205H265.55L263.05 209.2Z" fill="#00ff00"/>
<path d="M266.27 222H271.27L268.77 226.2Z" fill="#00ff00"/>
<path d="M271.57 214.8H276.57L274.07 219Z" fill="#00ff00"/>
<path d="M276.51 230.2H281.51L279.01 234.4Z" fill="#00ff00"/>
<path d="M281.13 235.2H286.13L283.63 239.4Z" fill="#00ff00"/>
<path d="M285.47 231.6H290.47L287.97 235.8Z" fill="#00ff00"/>
<path d="M289.56 242H294.56L292.06 246.2Z" fill="#00ff00"/>
<path d="M293.42 239.4H298.42L295.92 243.6Z" fill="#00ff00"/>
<path d="M297.09 248.2H302.09L299.59 252.4Z" fill="#00ff00"/>
<path d="M300.59 257H305.59L303.09 261.2Z" fill="#00ff00"/>
<path d="M303.91 263.28H308.91L306.41 267.48Z" fill="#00ff00"/>
<path d="M307.09 263.28H312.09L309.59 267.48Z" fill="#00ff00"/>
<path d="M310.14 257H315.14L312.64 261.2Z" fill="#00ff00"/>
<path d="M313.06 287.25H318.06L315.56 291.45Z" fill="#00ff00"/>
<path d="M315.87 287.25H320.87L318.37 291.45Z" fill="#00ff00"/>
<path d="M326.11 287.25H331.11L328.61 291.45Z" fill="#00ff00"/>
<path d="M332.93 287.25H337.93L335.43 291.45Z" fill="#00ff00"/>
<path d="M348.46 287.25H353.46L350.96 291.45Z" fill="#00ff00"/>
<text transform="translate(432.6,114.76) scale(0.962,1)" font-size="19" text-anchor="end">T=2.816</text>
<path d="M465.4 106.86H470.4L467.9 111.06Z" fill="#00ff00"/>
<use href="#mc" x="134.84" y="154.6"/>
<use href="#mc" x="163.86" y="175.2"/>
<use href="#mc" x="184.44" y="189"/>
<use href="#mc" x="200.41" y="193.4"/>
<use href="#mc" x="213.45" y="205.4"/>
<use href="#mc" x="224.48" y="218.4"/>
<use href="#mc" x="234.03" y="216.8"/>
<use href="#mc" x="242.46" y="220.4"/>
<use href="#mc" x="250" y="238.61"/>
<use href="#mc" x="256.82" y="246.39"/>
<use href="#mc" x="263.05" y="246.39"/>
<use href="#mc" x="268.77" y="246.39"/>
<use href="#mc" x="274.07" y="258.6"/>
<use href="#mc" x="279.01" y="273.73"/>
<use href="#mc" x="283.63" y="273.73"/>
<use href="#mc" x="287.97" y="288.85"/>
<use href="#mc" x="292.06" y="264.88"/>
<use href="#mc" x="306.41" y="288.85"/>
<text transform="translate(432.6,132.9) scale(0.962,1)" font-size="19" text-anchor="end">T=2.894</text>
<use href="#mc" x="467.9" y="126.6"/>
<path d="M132.24 189.4L134.84 186.8L137.44 189.4L134.84 192Z" fill="#ff00ff"/>
<path d="M161.26 207.2L163.86 204.6L166.46 207.2L163.86 209.8Z" fill="#ff00ff"/>
<path d="M181.84 220.4L184.44 217.8L187.04 220.4L184.44 223Z" fill="#ff00ff"/>
<path d="M197.81 228.2L200.41 225.6L203.01 228.2L200.41 230.8Z" fill="#ff00ff"/>
<path d="M210.85 234.4L213.45 231.8L216.05 234.4L213.45 237Z" fill="#ff00ff"/>
<path d="M221.88 258.6L224.48 256L227.08 258.6L224.48 261.2Z" fill="#ff00ff"/>
<path d="M231.43 258.6L234.03 256L236.63 258.6L234.03 261.2Z" fill="#ff00ff"/>
<path d="M239.86 258.6L242.46 256L245.06 258.6L242.46 261.2Z" fill="#ff00ff"/>
<path d="M247.4 264.88L250 262.28L252.6 264.88L250 267.48Z" fill="#ff00ff"/>
<path d="M254.22 288.85L256.82 286.25L259.42 288.85L256.82 291.45Z" fill="#ff00ff"/>
<path d="M266.17 273.73L268.77 271.13L271.37 273.73L268.77 276.33Z" fill="#ff00ff"/>
<path d="M271.47 288.85L274.07 286.25L276.67 288.85L274.07 291.45Z" fill="#ff00ff"/>
<path d="M276.41 288.85L279.01 286.25L281.61 288.85L279.01 291.45Z" fill="#ff00ff"/>
<text transform="translate(432.6,151.04) scale(0.962,1)" font-size="19" text-anchor="end">T=2.972</text>
<path d="M465.3 144.74L467.9 142.14L470.5 144.74L467.9 147.34Z" fill="#ff00ff"/>
<use href="#mh" x="134.84" y="231.2"/>
<use href="#mh" x="163.86" y="246.39"/>
<use href="#mh" x="184.44" y="243.48"/>
<use href="#mh" x="200.41" y="288.85"/>
<use href="#mh" x="213.45" y="288.85"/>
<use href="#mh" x="224.48" y="273.73"/>
<text transform="translate(432.6,169.18) scale(0.962,1)" font-size="19" text-anchor="end">T=3.030</text>
<use href="#mh" x="467.9" y="162.88"/>
<path d="M132.44 260.2H137.24L134.84 256Z" fill="#808080"/>
<path d="M161.46 260.2H166.26L163.86 256Z" fill="#808080"/>
<path d="M182.04 266.48H186.84L184.44 262.28Z" fill="#808080"/>
<text transform="translate(432.6,187.32) scale(0.962,1)" font-size="19" text-anchor="end">T=3.089</text>
<path d="M465.5 182.62H470.3L467.9 178.42Z" fill="#808080"/>
<use href="#mq" x="134.84" y="273.73"/>
<use href="#mq" x="163.86" y="273.73"/>
<text transform="translate(432.6,205.46) scale(0.962,1)" font-size="19" text-anchor="end">T=3.128</text>
<use href="#mq" x="467.9" y="199.16"/>
</svg></body></html>
